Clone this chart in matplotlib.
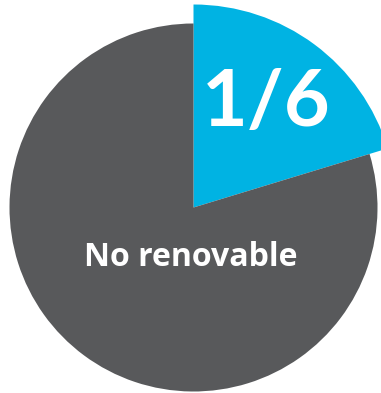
import matplotlib
matplotlib.use("Agg")
import matplotlib.pyplot as plt

# share of the pie: renewable (labelled 1/6) vs non renewable
labels = ["1/6", "No renovable"]
shares = [20.3, 79.7]
colors = ["#00b3e3", "#58595b"]

W, H = 381, 393
fig = plt.figure(figsize=(W / 100, H / 100), dpi=100)
ax = fig.add_axes([0, 0, 1, 1])

center = (193.5, H - 207.5)
wedges, _ = ax.pie(shares, colors=colors, startangle=90, counterclock=False,
                   radius=184, center=center, wedgeprops=dict(linewidth=0))
# the highlighted slice sticks out past the rest
wedges[0].set_radius(203)

ax.set_xlim(0, W)
ax.set_ylim(0, H)
ax.set_aspect("equal")
ax.axis("off")

ax.text(266, H - 104, labels[0], color="white", fontsize=57, fontweight="bold",
        family="Lato", ha="center", va="center")
ax.text(191, H - 257, labels[1], color="white", fontsize=23, fontweight="bold",
        family="Open Sans", ha="center", va="center")

fig.savefig("out.png", dpi=100)
plt.close()
